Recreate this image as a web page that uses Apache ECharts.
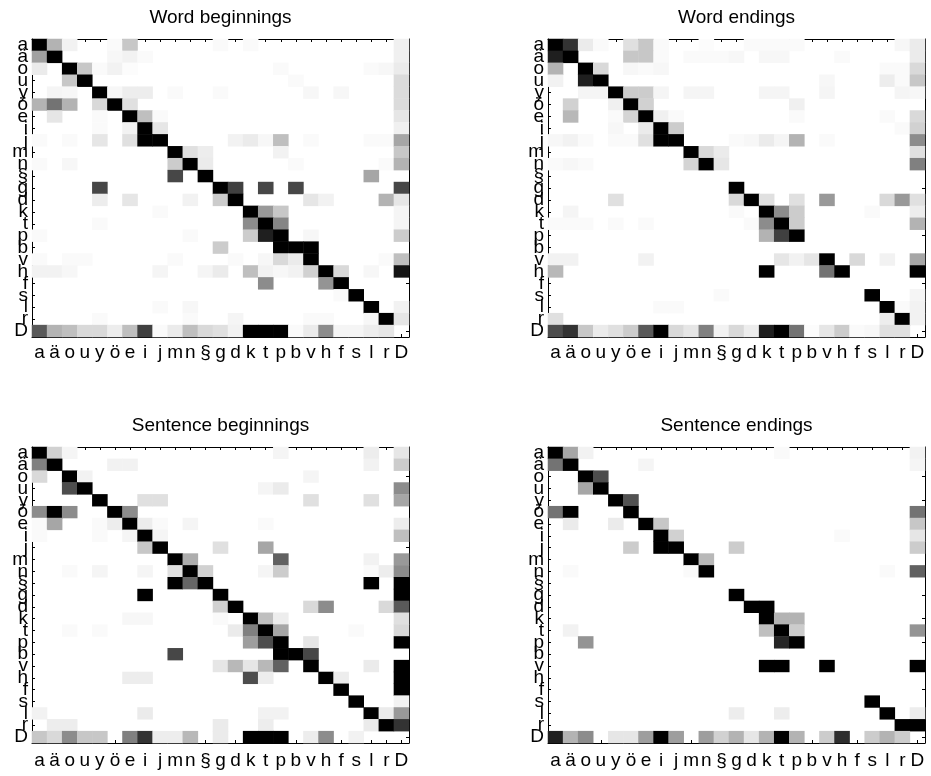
<!DOCTYPE html>
<html>
<head>
<meta charset="utf-8">
<script src="https://cdn.jsdelivr.net/npm/echarts@6/dist/echarts.min.js"></script>
<style>
  html, body { margin: 0; padding: 0; background: #ffffff; }
  #chart { width: 931px; height: 776px; }
</style>
</head>
<body>
<div id="chart"></div>
<script>
// Symbols on both axes (rows = preceding symbol, columns = following symbol)
const letters = ['a','ä','o','u','y','ö','e','i','j','m','n','§','g','d','k','t','p','b','v','h','f','s','l','r','D'];

const panelTitles = ['Word beginnings', 'Word endings', 'Sentence beginnings', 'Sentence endings'];

// Each entry: [row, column, darkness 0..1]; cells not listed are empty (0)
const wordBeginnings = [
  [0,0,1],[0,1,.3],[0,2,.05],[0,5,.02],[0,6,.22],[0,12,.02],[0,14,.02],[0,24,.06],
  [1,0,.37],[1,1,1],[1,5,.03],[1,6,.05],[1,7,.02],[1,24,.06],
  [2,0,.08],[2,2,1],[2,3,.22],[2,4,.02],[2,5,.05],[2,6,.01],[2,16,.02],[2,22,.02],[2,23,.03],[2,24,.08],
  [3,2,.22],[3,3,1],[3,17,.02],[3,24,.14],
  [4,1,.04],[4,2,.03],[4,4,1],[4,5,.03],[4,6,.07],[4,7,.07],[4,9,.02],[4,12,.02],[4,18,.03],[4,20,.03],[4,24,.14],
  [5,0,.3],[5,1,.55],[5,2,.3],[5,4,.15],[5,5,1],[5,6,.12],[5,24,.14],
  [6,1,.1],[6,4,.02],[6,6,1],[6,7,.25],[6,8,.02],[6,24,.1],
  [7,4,.02],[7,6,.05],[7,7,1],[7,8,.1],[7,24,.06],
  [8,0,.02],[8,2,.02],[8,4,.1],[8,6,.12],[8,7,1],[8,8,1],[8,13,.05],[8,14,.08],[8,15,.03],[8,16,.25],[8,18,.02],[8,22,.02],[8,23,.02],[8,24,.35],
  [9,9,1],[9,10,.12],[9,11,.07],[9,16,.05],[9,24,.22],
  [10,0,.02],[10,2,.03],[10,9,.2],[10,10,1],[10,11,.08],[10,17,.02],[10,23,.02],[10,24,.3],
  [11,9,.72],[11,11,1],[11,22,.35],
  [12,4,.72],[12,12,1],[12,13,.75],[12,15,.72],[12,17,.72],[12,24,.72],
  [13,4,.07],[13,6,.1],[13,10,.05],[13,12,.2],[13,13,1],[13,18,.1],[13,19,.05],[13,23,.3],[13,24,.1],
  [14,8,.02],[14,14,1],[14,15,.4],[14,16,.22],[14,24,.04],
  [15,4,.02],[15,14,.45],[15,15,1],[15,16,.48],[15,24,.04],
  [16,0,.02],[16,10,.02],[16,14,.2],[16,15,.88],[16,16,1],[16,18,.03],[16,24,.2],
  [17,12,.2],[17,16,1],[17,17,1],[17,18,1],
  [18,0,.02],[18,2,.02],[18,3,.02],[18,9,.02],[18,13,.02],[18,15,.03],[18,16,.15],[18,17,.08],[18,18,1],[18,23,.02],[18,24,.25],
  [19,0,.05],[19,1,.05],[19,2,.03],[19,8,.04],[19,11,.04],[19,12,.08],[19,14,.25],[19,15,.05],[19,16,.03],[19,17,.05],[19,18,.18],[19,19,1],[19,20,.15],[19,22,.03],[19,24,.92],
  [20,15,.45],[20,19,.42],[20,20,1],
  [21,20,.02],[21,21,1],
  [22,8,.02],[22,10,.03],[22,22,1],[22,24,.05],
  [23,4,.02],[23,10,.02],[23,13,.04],[23,18,.02],[23,19,.02],[23,22,.03],[23,23,1],[23,24,.1],
  [24,0,.65],[24,1,.3],[24,2,.25],[24,3,.15],[24,4,.15],[24,5,.07],[24,6,.25],[24,7,.75],[24,8,.02],[24,9,.08],[24,10,.25],[24,11,.15],[24,12,.12],[24,13,.05],[24,14,1],[24,15,1],[24,16,1],[24,17,.02],[24,18,.08],[24,19,.45],[24,20,.04],[24,21,.04],[24,22,.07],[24,23,.1]
];

const wordEndings = [
  [0,0,1],[0,1,.8],[0,2,.08],[0,3,.02],[0,5,.12],[0,6,.22],[0,7,.02],[0,10,.01],[0,13,.02],[0,14,.02],[0,15,.02],[0,16,.02],[0,23,.03],[0,24,.08],
  [1,0,.88],[1,1,1],[1,5,.22],[1,6,.22],[1,7,.02],[1,9,.02],[1,10,.02],[1,11,.02],[1,12,.03],[1,14,.03],[1,15,.03],[1,19,.02],[1,24,.08],
  [2,0,.3],[2,2,1],[2,3,.15],[2,5,.03],[2,6,.02],[2,7,.03],[2,22,.02],[2,23,.02],[2,24,.15],
  [3,0,.05],[3,2,.88],[3,3,1],[3,18,.03],[3,22,.07],[3,23,.02],[3,24,.22],
  [4,2,.04],[4,3,.04],[4,4,1],[4,5,.2],[4,6,.2],[4,7,.04],[4,9,.04],[4,10,.04],[4,14,.04],[4,15,.04],[4,18,.04],[4,23,.04],[4,24,.03],
  [5,1,.18],[5,4,.06],[5,5,1],[5,6,.18],[5,16,.06],
  [6,1,.28],[6,4,.02],[6,5,.17],[6,6,1],[6,7,.06],[6,8,.02],[6,16,.02],[6,22,.02],[6,24,.15],
  [7,4,.03],[7,6,.08],[7,7,1],[7,8,.2],[7,23,.02],[7,24,.18],
  [8,0,.03],[8,1,.05],[8,2,.02],[8,4,.02],[8,5,.02],[8,6,.12],[8,7,1],[8,8,1],[8,12,.02],[8,13,.03],[8,14,.08],[8,15,.04],[8,16,.3],[8,18,.02],[8,24,.45],
  [9,9,1],[9,10,.15],[9,11,.08],[9,24,.12],
  [10,0,.02],[10,1,.03],[10,2,.02],[10,9,.17],[10,10,1],[10,11,.1],[10,24,.5],
  [12,12,1],
  [13,4,.12],[13,12,.15],[13,13,1],[13,14,.12],[13,16,.12],[13,18,.4],[13,22,.15],[13,23,.4],[13,24,.12],
  [14,1,.04],[14,12,.02],[14,14,1],[14,15,.45],[14,16,.2],[14,21,.02],[14,24,.07],
  [15,0,.02],[15,1,.02],[15,2,.02],[15,4,.02],[15,6,.02],[15,13,.02],[15,14,.45],[15,15,1],[15,16,.2],[15,24,.3],
  [16,14,.3],[16,15,.75],[16,16,1],
  [18,0,.05],[18,1,.05],[18,6,.05],[18,15,.1],[18,16,.05],[18,17,.1],[18,18,1],[18,20,.15],[18,22,.05],[18,24,.35],
  [19,0,.28],[19,14,1],[19,18,.55],[19,19,1],[19,24,1],
  [21,11,.02],[21,21,1],[21,24,.04],
  [22,7,.02],[22,8,.02],[22,22,1],[22,23,.02],[22,24,.05],
  [23,0,.12],[23,22,.07],[23,23,1],[23,24,.05],
  [24,0,.7],[24,1,.8],[24,2,.22],[24,3,.08],[24,4,.12],[24,5,.2],[24,6,.65],[24,7,1],[24,8,.15],[24,9,.1],[24,10,.5],[24,11,.05],[24,12,.15],[24,13,.07],[24,14,.88],[24,15,1],[24,16,.55],[24,17,.01],[24,18,.1],[24,19,.2],[24,20,.02],[24,21,.03],[24,22,.12],[24,23,.12]
];

const sentenceBeginnings = [
  [0,0,1],[0,1,.18],[0,2,.04],[0,16,.04],[0,22,.07],[0,24,.1],
  [1,0,.5],[1,1,1],[1,5,.05],[1,6,.05],[1,22,.05],[1,24,.2],
  [2,0,.15],[2,2,1],[2,3,.05],[2,18,.04],
  [3,2,.7],[3,3,1],[3,15,.04],[3,16,.08],[3,24,.45],
  [4,4,1],[4,7,.12],[4,8,.12],[4,18,.12],[4,22,.12],[4,24,.35],
  [5,0,.45],[5,1,1],[5,2,.45],[5,5,1],[5,6,.45],
  [6,0,.02],[6,1,.35],[6,4,.02],[6,5,.07],[6,6,1],[6,7,.07],[6,8,.02],[6,10,.04],[6,15,.02],[6,24,.07],
  [7,0,.02],[7,4,.02],[7,6,.04],[7,7,1],[7,8,.04],[7,24,.25],
  [8,7,.22],[8,8,1],[8,12,.12],[8,15,.35],
  [9,9,1],[9,10,.32],[9,16,.62],[9,22,.05],[9,24,.4],
  [10,2,.02],[10,4,.04],[10,7,.04],[10,9,.12],[10,10,1],[10,11,.18],[10,15,.04],[10,16,.2],[10,22,.02],[10,23,.07],[10,24,.45],
  [11,9,1],[11,10,.6],[11,11,1],[11,22,1],[11,24,1],
  [12,7,1],[12,12,1],[12,24,1],
  [13,12,.18],[13,13,1],[13,18,.15],[13,19,.45],[13,23,.15],[13,24,.65],
  [14,6,.03],[14,7,.03],[14,12,.02],[14,14,1],[14,15,.25],[14,16,.07],[14,24,.12],
  [15,2,.02],[15,4,.02],[15,13,.08],[15,14,.5],[15,15,1],[15,16,.35],[15,21,.02],[15,24,.15],
  [16,14,.38],[16,15,.7],[16,16,1],[16,18,.1],[16,24,1],
  [17,9,.72],[17,16,1],[17,17,1],[17,18,.72],
  [18,12,.1],[18,13,.28],[18,14,.1],[18,15,.28],[18,16,.62],[18,18,1],[18,22,.08],[18,24,1],
  [19,6,.07],[19,7,.07],[19,14,.7],[19,15,.07],[19,19,1],[19,20,.07],[19,24,1],
  [20,20,1],[20,24,1],
  [21,21,1],[21,24,.05],
  [22,0,.05],[22,7,.08],[22,15,.05],[22,16,.05],[22,22,1],[22,23,.08],[22,24,.4],
  [23,1,.07],[23,2,.07],[23,12,.08],[23,15,.07],[23,22,.08],[23,23,1],[23,24,.8],
  [24,0,.22],[24,1,.15],[24,2,.45],[24,3,.22],[24,4,.22],[24,6,.5],[24,7,.8],[24,8,.07],[24,9,.07],[24,10,.28],[24,12,.08],[24,14,1],[24,15,1],[24,16,1],[24,18,.07],[24,19,.45],[24,21,.05]
];

const sentenceEndings = [
  [0,0,1],[0,1,.35],[0,2,.05],[0,15,.02],[0,24,.05],
  [1,0,.55],[1,1,1],[1,6,.04],[1,24,.04],
  [2,2,1],[2,3,.7],
  [3,2,.35],[3,3,1],
  [4,4,1],[4,5,.68],
  [5,0,.55],[5,1,1],[5,5,1],[5,24,.55],
  [6,1,.08],[6,4,.08],[6,6,1],[6,7,.22],[6,24,.22],
  [7,7,1],[7,8,.18],[7,19,.02],[7,24,.1],
  [8,5,.2],[8,7,1],[8,8,1],[8,12,.2],[8,24,.2],
  [9,9,1],[9,10,.28],
  [10,1,.02],[10,9,.02],[10,10,1],[10,22,.02],[10,24,.62],
  [12,12,1],
  [13,13,1],[13,14,1],
  [14,14,1],[14,15,.3],[14,16,.3],
  [15,1,.05],[15,14,.25],[15,15,1],[15,16,.2],[15,24,.42],
  [16,2,.42],[16,15,.85],[16,16,1],
  [18,14,1],[18,15,1],[18,18,1],[18,24,1],
  [21,21,1],
  [22,12,.07],[22,15,.07],[22,22,1],[22,24,.07],
  [23,23,1],[23,24,1],
  [24,0,.88],[24,1,.3],[24,2,.45],[24,4,.1],[24,5,.1],[24,6,.38],[24,7,1],[24,8,.38],[24,10,.38],[24,11,.18],[24,12,.3],[24,13,.1],[24,14,.3],[24,15,1],[24,16,.3],[24,18,.2],[24,19,.82],[24,21,.2],[24,22,.3],[24,23,.2]
];

const panelData = [wordBeginnings, wordEndings, sentenceBeginnings, sentenceEndings];

// Plot boxes of the 2x2 layout
const boxes = [
  { left: 32,  top: 39,  width: 377, height: 298 },
  { left: 548, top: 39,  width: 377, height: 298 },
  { left: 32,  top: 447, width: 377, height: 296 },
  { left: 548, top: 447, width: 377, height: 296 }
];

const FONT = '"Liberation Sans", Arial, Helvetica, sans-serif';
const lineStyle = { color: '#000', width: 1 };

const grid = [], xAxis = [], yAxis = [], series = [], title = [];

boxes.forEach((b, i) => {
  grid.push({ left: b.left, top: b.top, width: b.width, height: b.height, containLabel: false });

  title.push({
    text: panelTitles[i],
    left: b.left + b.width / 2,
    top: b.top - 31,
    textAlign: 'center',
    padding: 0,
    textStyle: { fontFamily: FONT, fontSize: 19, fontWeight: 'normal', color: '#000' }
  });

  // bottom axis with labels, top axis only closes the box
  xAxis.push({
    type: 'category', data: letters, gridIndex: i, position: 'bottom',
    axisLine: { show: true, lineStyle },
    axisTick: { show: true, inside: true, length: 3, alignWithLabel: true, lineStyle },
    axisLabel: { interval: 0, fontFamily: FONT, fontSize: 19, color: '#000', margin: i < 2 ? 6 : 8 },
    splitLine: { show: false }
  });
  xAxis.push({
    type: 'category', data: letters, gridIndex: i, position: 'top',
    axisLine: { show: true, lineStyle },
    axisTick: { show: true, inside: true, length: 3, alignWithLabel: true, lineStyle },
    axisLabel: { show: false }, splitLine: { show: false }
  });
  yAxis.push({
    type: 'category', data: letters, gridIndex: i, position: 'left', inverse: true,
    axisLine: { show: true, lineStyle },
    axisTick: { show: true, inside: true, length: 3, alignWithLabel: true, lineStyle },
    axisLabel: { interval: 0, fontFamily: FONT, fontSize: 19, color: '#000', margin: 4, hideOverlap: false, padding: [6, 0, 0, 0] },
    splitLine: { show: false }
  });
  yAxis.push({
    type: 'category', data: letters, gridIndex: i, position: 'right', inverse: true,
    axisLine: { show: true, lineStyle },
    axisTick: { show: true, inside: true, length: 3, alignWithLabel: true, lineStyle },
    axisLabel: { show: false }, splitLine: { show: false }
  });

  series.push({
    type: 'heatmap',
    name: panelTitles[i],
    xAxisIndex: i * 2,
    yAxisIndex: i * 2,
    data: panelData[i].map(([r, c, v]) => [c, r, v]),
    itemStyle: { borderWidth: 0 },
    emphasis: { disabled: true },
    progressive: 0,
    z: 1
  });
});

const chart = echarts.init(document.getElementById('chart'), null, { renderer: 'canvas' });
chart.setOption({
  animation: false,
  backgroundColor: '#ffffff',
  title,
  grid,
  xAxis,
  yAxis,
  visualMap: {
    show: false, type: 'continuous', min: 0, max: 1,
    seriesIndex: [0, 1, 2, 3],
    inRange: { color: ['#ffffff', '#000000'] }
  },
  series
});
</script>
</body>
</html>
